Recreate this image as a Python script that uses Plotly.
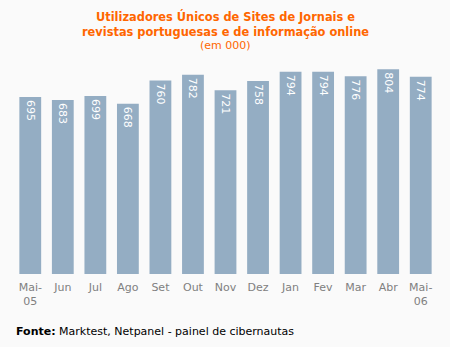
import plotly.graph_objects as go

months = ["Mai-<br>05", "Jun", "Jul", "Ago", "Set", "Out", "Nov", "Dez", "Jan", "Fev", "Mar", "Abr", "Mai-<br>06"]
values = [695, 683, 699, 668, 760, 782, 721, 758, 794, 794, 776, 804, 774]

fig = go.Figure(go.Bar(
    x=months, y=values,
    marker=dict(color="#94adc3", line=dict(width=0)),
    text=[str(v) for v in values],
    textposition="inside",
    insidetextanchor="end",
    textangle=90,
    textfont=dict(color="white", size=11, family="DejaVu Sans"),
    cliponaxis=False,
))

PH = 213.5  # plot height in px
PW = 423.0

fig.update_layout(
    width=450, height=347,
    paper_bgcolor="#fafafa", plot_bgcolor="#fafafa",
    margin=dict(l=14, r=13, t=60, b=73),
    bargap=0.33,
    showlegend=False,
    xaxis=dict(showgrid=False, showline=False, zeroline=False, ticks="", ticklabelstandoff=5,
               tickfont=dict(color="#808080", size=11, family="DejaVu Sans"), tickangle=0),
    yaxis=dict(range=[0, 840], visible=False),
)
title_font = dict(color="#ff6600", size=11.4, family="DejaVu Sans")
fig.add_annotation(text="<b>Utilizadores Únicos de Sites de Jornais e</b>", xref="paper", yref="paper",
                   x=0.5, y=1 + (60 - 17) / PH, showarrow=False, xanchor="center", yanchor="middle",
                   font=title_font)
fig.add_annotation(text="<b>revistas portuguesas e de informação online</b>", xref="paper", yref="paper",
                   x=0.5, y=1 + (60 - 32) / PH, showarrow=False, xanchor="center", yanchor="middle",
                   font=title_font)
fig.add_annotation(text="(em 000)", xref="paper", yref="paper",
                   x=0.5, y=1 + (60 - 46) / PH, showarrow=False, xanchor="center", yanchor="middle",
                   font=dict(color="#ff6600", size=11, family="DejaVu Sans"))
fig.add_annotation(text="<b>Fonte:</b> Marktest, Netpanel - painel de cibernautas", xref="paper", yref="paper",
                   x=(14 - 14) / PW, y=-(331 - 273.5) / PH, showarrow=False, xanchor="left", yanchor="middle",
                   font=dict(color="#000000", size=11, family="DejaVu Sans"))

fig.write_html("out.html")
